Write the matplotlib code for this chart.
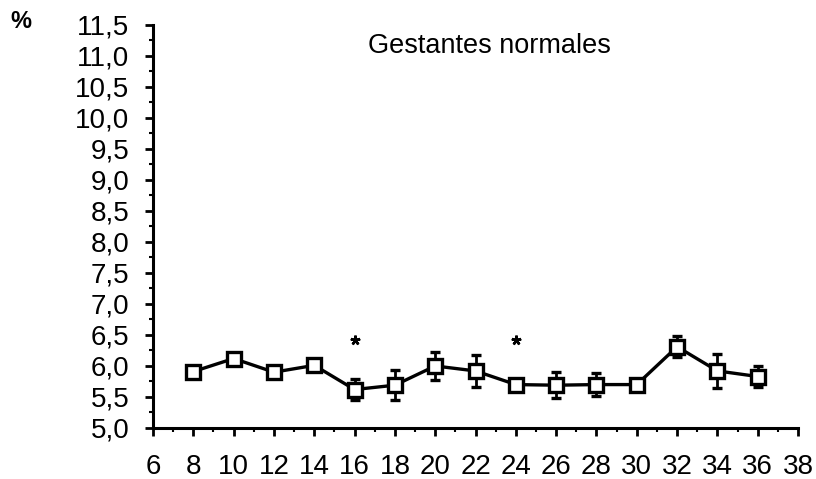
import matplotlib
matplotlib.use("Agg")
import matplotlib.pyplot as plt
from matplotlib.ticker import MultipleLocator

weeks = [8, 10, 12, 14, 16, 18, 20, 22, 24, 26, 28, 30, 32, 34, 36]
values = [5.91, 6.12, 5.90, 6.01, 5.62, 5.69, 6.00, 5.92, 5.70, 5.69, 5.70, 5.70, 6.31, 5.92, 5.83]
errors = [0.05, 0.05, 0.05, 0.04, 0.17, 0.24, 0.22, 0.26, 0.05, 0.21, 0.18, 0.05, 0.17, 0.27, 0.17]
star_weeks = [16, 24]
star_y = [6.42, 6.42]
x_ticks = list(range(6, 39, 2))
y_ticks = [5.0 + 0.5 * i for i in range(14)]
title = "Gestantes normales"

plt.rcParams['font.family'] = ['Liberation Sans', 'DejaVu Sans']
fig = plt.figure(figsize=(8.16, 4.79), dpi=100)
ax = fig.add_axes([0.1875, 0.1065, 0.7905, 0.8415])

ax.errorbar(weeks, values, yerr=errors, color='black', lw=2.4, capsize=3.5,
            capthick=2.0, elinewidth=2.0, marker='s', markersize=9.5,
            markerfacecolor='white', markeredgecolor='black', markeredgewidth=2.4,
            zorder=3)
ax.plot(star_weeks, star_y, linestyle='none', marker=(5, 2, 0), markersize=7,
        color='black', markeredgewidth=1.8)

ax.set_xlim(6, 38)
ax.set_ylim(5.0, 11.5)
ax.set_xticks(x_ticks)
ax.set_xticklabels([str(t) for t in x_ticks])
ax.set_yticks(y_ticks)
ax.set_yticklabels([f"{t:.1f}".replace('.', ',') for t in y_ticks])
ax.xaxis.set_minor_locator(MultipleLocator(1))
ax.yaxis.set_minor_locator(MultipleLocator(0.25))

for s in ['top', 'right']:
    ax.spines[s].set_visible(False)
for s in ['left', 'bottom']:
    ax.spines[s].set_linewidth(2.2)

ax.tick_params(axis='both', which='major', direction='out', length=6, width=2,
               labelsize=20)
ax.tick_params(axis='both', which='minor', direction='out', length=3, width=1.5)
ax.tick_params(axis='x', pad=13)
ax.tick_params(axis='y', pad=11)

fig.text(0.60, 0.905, title, ha='center', va='center', fontsize=19.5)
fig.text(0.025, 0.955, "%", ha='center', va='center', fontsize=17, fontweight='bold')

fig.savefig("out.png", dpi=100)
